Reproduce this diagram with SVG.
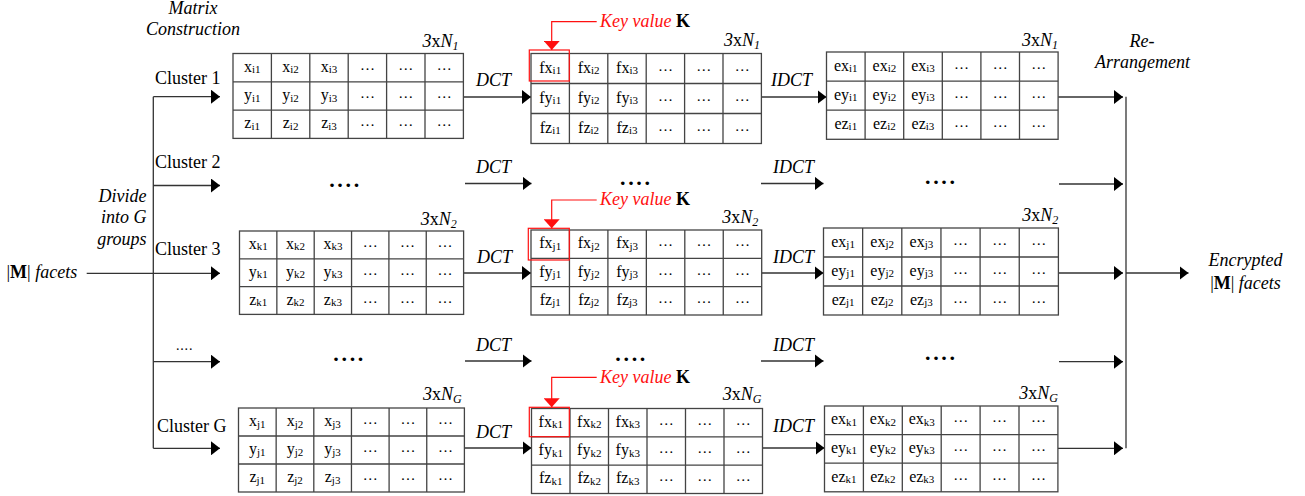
<svg xmlns="http://www.w3.org/2000/svg" width="1305" height="496" viewBox="0 0 1305 496">
<defs>
<marker id="ah" markerUnits="userSpaceOnUse" markerWidth="10" markerHeight="14" refX="9" refY="7" orient="auto"><path d="M0,0 L9,7 L0,14 z" fill="#000"/></marker>
<marker id="rh" markerUnits="userSpaceOnUse" markerWidth="10" markerHeight="16" refX="9" refY="8" orient="auto"><path d="M0,0 L9,8 L0,16 z" fill="#ff1010"/></marker>
</defs>
<style>
text{font-family:"Liberation Serif","Times New Roman",serif;fill:#000}
.lbl{font-size:18px}
.it{font-style:italic}
.b{font-weight:bold}
.c{font-size:16px;text-anchor:middle}
.s{font-size:11px}
.e{font-size:15px;text-anchor:middle}
.gb{fill:#fff;stroke:#444;stroke-width:1.3}
.gl{fill:none;stroke:#444;stroke-width:1.3}
.conn path{fill:none;stroke:#333;stroke-width:1.3}
.arr{marker-end:url(#ah)}
.rl{fill:none;stroke:#ff1010;stroke-width:1.2}
.rk{fill:#ff1010;font-style:italic}
.dots{font-size:22px;font-weight:bold;text-anchor:middle}
.n{font-size:18px;text-anchor:end}
.ns{font-size:12px;font-style:italic}
</style>

<g id="connectors" class="conn">
<path d="M153.3,96.7 V448.3"/>
<path class="arr" d="M153.3,96.7 H220"/>
<path class="arr" d="M153.3,185.5 H220"/>
<path class="arr" d="M86.7,273.3 H220"/>
<path class="arr" d="M153.3,361.7 H220"/>
<path class="arr" d="M153.3,448.3 H220"/>
<path class="arr" d="M463.4,97 H531"/>
<path class="arr" d="M761.4,97 H826.5"/>
<path class="arr" d="M1058.1,97 H1123"/>
<path class="arr" d="M465,183.5 H531.5"/>
<path class="arr" d="M761,183.5 H823.5"/>
<path class="arr" d="M1059,184 H1123"/>
<path class="arr" d="M463.6,273 H531"/>
<path class="arr" d="M761.7,273 H823.5"/>
<path class="arr" d="M1058.4,273 H1123"/>
<path class="arr" d="M1126,273 H1188.5"/>
<path class="arr" d="M465,361 H531.5"/>
<path class="arr" d="M761,361 H823.5"/>
<path class="arr" d="M1059,361.7 H1123"/>
<path class="arr" d="M464.4,448 H531.5"/>
<path class="arr" d="M762.5,448 H824.5"/>
<path class="arr" d="M1057.9,448.3 H1123"/>
<path d="M1126,96.7 V448.3"/>
</g>

<g id="labels-left">
<text class="lbl it" x="193" y="13.5" text-anchor="middle">Matrix</text>
<text class="lbl it" x="193" y="35" text-anchor="middle">Construction</text>
<text class="lbl" x="155" y="83.5">Cluster 1</text>
<text class="lbl" x="155" y="168">Cluster 2</text>
<text class="lbl" x="155" y="255">Cluster 3</text>
<text x="176" y="350" style="font-size:14px;letter-spacing:0.8px">....</text>
<text class="lbl" x="157" y="431.5">Cluster G</text>
<text class="lbl it" x="146.5" y="201.7" text-anchor="end">Divide</text>
<text class="lbl it" x="146.5" y="223.3" text-anchor="end">into G</text>
<text class="lbl it" x="146.5" y="245" text-anchor="end">groups</text>
<text class="lbl" x="6.5" y="278.3">|<tspan class="b">M</tspan>| <tspan class="it">facets</tspan></text>
</g>

<g id="labels-right">
<text class="lbl it" x="1142" y="46.7" text-anchor="middle">Re-</text>
<text class="lbl it" x="1142.5" y="68.3" text-anchor="middle">Arrangement</text>
<text class="lbl it" x="1245.5" y="266" text-anchor="middle">Encrypted</text>
<text class="lbl" x="1245.5" y="288.5" text-anchor="middle">|<tspan class="b">M</tspan>| <tspan class="it">facets</tspan></text>
</g>

<g id="transform-labels" class="lbl it">
<text x="476" y="86">DCT</text>
<text x="771" y="86">IDCT</text>
<text x="476" y="173">DCT</text>
<text x="773" y="173">IDCT</text>
<text x="477" y="263">DCT</text>
<text x="773" y="263">IDCT</text>
<text x="476" y="350.5">DCT</text>
<text x="773" y="350.5">IDCT</text>
<text x="476" y="438.3">DCT</text>
<text x="773" y="431.7">IDCT</text>
</g>

<g id="dots">
<text class="dots" x="331.9 340.1 348.3 356.5" y="186.5">....</text>
<text class="dots" x="622.7 630.9 639.1 647.3" y="185">....</text>
<text class="dots" x="927.7 935.9 944.1 952.3" y="184">....</text>
<text class="dots" x="336 344.2 352.4 360.6" y="360.5">....</text>
<text class="dots" x="618 626.2 634.4 642.6" y="361">....</text>
<text class="dots" x="927.7 935.9 944.1 952.3" y="360">....</text>
</g>

<!-- Row A -->
<g id="matrix-xyz-1">
<rect class="gb" x="233" y="53.5" width="230.4" height="84.9"/>
<path class="gl" d="M271.4,53.5V138.4M309.8,53.5V138.4M348.2,53.5V138.4M386.6,53.5V138.4M425,53.5V138.4M233,81.8H463.4M233,110.1H463.4"/>
<g class="c">
<text x="252.2" y="71.7">x<tspan class="s" dy="1.5">i1</tspan></text>
<text x="290.6" y="71.7">x<tspan class="s" dy="1.5">i2</tspan></text>
<text x="329" y="71.7">x<tspan class="s" dy="1.5">i3</tspan></text>
<text x="252.2" y="100">y<tspan class="s" dy="1.5">i1</tspan></text>
<text x="290.6" y="100">y<tspan class="s" dy="1.5">i2</tspan></text>
<text x="329" y="100">y<tspan class="s" dy="1.5">i3</tspan></text>
<text x="252.2" y="128.3">z<tspan class="s" dy="1.5">i1</tspan></text>
<text x="290.6" y="128.3">z<tspan class="s" dy="1.5">i2</tspan></text>
<text x="329" y="128.3">z<tspan class="s" dy="1.5">i3</tspan></text>
</g>
<text class="e" x="367.4 405.8 444.2" y="69.7">………</text>
<text class="e" x="367.4 405.8 444.2" y="98">………</text>
<text class="e" x="367.4 405.8 444.2" y="126.3">………</text>
<text class="n" x="458.5" y="47"><tspan class="it">3</tspan>x<tspan class="it">N</tspan><tspan class="ns" dy="3">1</tspan></text>
</g>

<g id="matrix-dct-1">
<rect class="gb" x="531" y="53.5" width="230.4" height="90"/>
<path class="gl" d="M569.4,53.5V143.5M607.8,53.5V143.5M646.2,53.5V143.5M684.6,53.5V143.5M723,53.5V143.5M531,83.5H761.4M531,113.5H761.4"/>
<g class="c">
<text x="550.2" y="72.5">fx<tspan class="s" dy="1.5">i1</tspan></text>
<text x="588.6" y="72.5">fx<tspan class="s" dy="1.5">i2</tspan></text>
<text x="627" y="72.5">fx<tspan class="s" dy="1.5">i3</tspan></text>
<text x="550.2" y="102.5">fy<tspan class="s" dy="1.5">i1</tspan></text>
<text x="588.6" y="102.5">fy<tspan class="s" dy="1.5">i2</tspan></text>
<text x="627" y="102.5">fy<tspan class="s" dy="1.5">i3</tspan></text>
<text x="550.2" y="132.5">fz<tspan class="s" dy="1.5">i1</tspan></text>
<text x="588.6" y="132.5">fz<tspan class="s" dy="1.5">i2</tspan></text>
<text x="627" y="132.5">fz<tspan class="s" dy="1.5">i3</tspan></text>
</g>
<text class="e" x="665.4 703.8 742.2" y="70.5">………</text>
<text class="e" x="665.4 703.8 742.2" y="100.5">………</text>
<text class="e" x="665.4 703.8 742.2" y="130.5">………</text>
<text class="n" x="760" y="46"><tspan class="it">3</tspan>x<tspan class="it">N</tspan><tspan class="ns" dy="3">1</tspan></text>
</g>

<g id="key-1">
<rect class="rl" x="529.3" y="50" width="40" height="31"/>
<path class="rl" d="M596.7,21.7 H551.7 V50" marker-end="url(#rh)"/>
<text class="lbl" x="600" y="26.7"><tspan class="rk">Key value </tspan><tspan class="b">K</tspan></text>
</g>

<g id="matrix-idct-1">
<rect class="gb" x="826.5" y="52" width="231.6" height="87.3"/>
<path class="gl" d="M865.1,52V139.3M903.7,52V139.3M942.3,52V139.3M980.9,52V139.3M1019.5,52V139.3M826.5,81.1H1058.1M826.5,110.2H1058.1"/>
<g class="c">
<text x="845.8" y="70.6">ex<tspan class="s" dy="1.5">i1</tspan></text>
<text x="884.4" y="70.6">ex<tspan class="s" dy="1.5">i2</tspan></text>
<text x="923" y="70.6">ex<tspan class="s" dy="1.5">i3</tspan></text>
<text x="845.8" y="99.7">ey<tspan class="s" dy="1.5">i1</tspan></text>
<text x="884.4" y="99.7">ey<tspan class="s" dy="1.5">i2</tspan></text>
<text x="923" y="99.7">ey<tspan class="s" dy="1.5">i3</tspan></text>
<text x="845.8" y="128.8">ez<tspan class="s" dy="1.5">i1</tspan></text>
<text x="884.4" y="128.8">ez<tspan class="s" dy="1.5">i2</tspan></text>
<text x="923" y="128.8">ez<tspan class="s" dy="1.5">i3</tspan></text>
</g>
<text class="e" x="961.6 1000.2 1038.8" y="68.6">………</text>
<text class="e" x="961.6 1000.2 1038.8" y="97.7">………</text>
<text class="e" x="961.6 1000.2 1038.8" y="126.8">………</text>
<text class="n" x="1058" y="45.5"><tspan class="it">3</tspan>x<tspan class="it">N</tspan><tspan class="ns" dy="3">1</tspan></text>
</g>

<!-- Row C -->
<g id="matrix-xyz-3">
<rect class="gb" x="239.5" y="231" width="224.1" height="83.4"/>
<path class="gl" d="M276.85,231V314.4M314.2,231V314.4M351.55,231V314.4M388.9,231V314.4M426.25,231V314.4M239.5,258.8H463.6M239.5,286.6H463.6"/>
<g class="c">
<text x="258.2" y="248.9">x<tspan class="s" dy="1.5">k1</tspan></text>
<text x="295.5" y="248.9">x<tspan class="s" dy="1.5">k2</tspan></text>
<text x="332.9" y="248.9">x<tspan class="s" dy="1.5">k3</tspan></text>
<text x="258.2" y="276.7">y<tspan class="s" dy="1.5">k1</tspan></text>
<text x="295.5" y="276.7">y<tspan class="s" dy="1.5">k2</tspan></text>
<text x="332.9" y="276.7">y<tspan class="s" dy="1.5">k3</tspan></text>
<text x="258.2" y="304.5">z<tspan class="s" dy="1.5">k1</tspan></text>
<text x="295.5" y="304.5">z<tspan class="s" dy="1.5">k2</tspan></text>
<text x="332.9" y="304.5">z<tspan class="s" dy="1.5">k3</tspan></text>
</g>
<text class="e" x="370.2 407.6 444.9" y="246.9">………</text>
<text class="e" x="370.2 407.6 444.9" y="274.7">………</text>
<text class="e" x="370.2 407.6 444.9" y="302.5">………</text>
<text class="n" x="456.7" y="224.5"><tspan class="it">3</tspan>x<tspan class="it">N</tspan><tspan class="ns" dy="3">2</tspan></text>
</g>

<g id="matrix-dct-3">
<rect class="gb" x="531" y="230" width="230.7" height="85"/>
<path class="gl" d="M569.45,230V315M607.9,230V315M646.35,230V315M684.8,230V315M723.25,230V315M531,258.33H761.7M531,286.67H761.7"/>
<g class="c">
<text x="550.2" y="248.2">fx<tspan class="s" dy="1.5">j1</tspan></text>
<text x="588.7" y="248.2">fx<tspan class="s" dy="1.5">j2</tspan></text>
<text x="627.1" y="248.2">fx<tspan class="s" dy="1.5">j3</tspan></text>
<text x="550.2" y="276.5">fy<tspan class="s" dy="1.5">j1</tspan></text>
<text x="588.7" y="276.5">fy<tspan class="s" dy="1.5">j2</tspan></text>
<text x="627.1" y="276.5">fy<tspan class="s" dy="1.5">j3</tspan></text>
<text x="550.2" y="304.8">fz<tspan class="s" dy="1.5">j1</tspan></text>
<text x="588.7" y="304.8">fz<tspan class="s" dy="1.5">j2</tspan></text>
<text x="627.1" y="304.8">fz<tspan class="s" dy="1.5">j3</tspan></text>
</g>
<text class="e" x="665.6 704 742.5" y="246.2">………</text>
<text class="e" x="665.6 704 742.5" y="274.5">………</text>
<text class="e" x="665.6 704 742.5" y="302.8">………</text>
<text class="n" x="758.3" y="222.5"><tspan class="it">3</tspan>x<tspan class="it">N</tspan><tspan class="ns" dy="3">2</tspan></text>
</g>

<g id="key-3">
<rect class="rl" x="528.3" y="228.3" width="41" height="31.7"/>
<path class="rl" d="M596.7,200 H551.7 V228.3" marker-end="url(#rh)"/>
<text class="lbl" x="600" y="205"><tspan class="rk">Key value </tspan><tspan class="b">K</tspan></text>
</g>

<g id="matrix-idct-3">
<rect class="gb" x="823.5" y="228" width="234.9" height="87"/>
<path class="gl" d="M862.65,228V315M901.8,228V315M940.95,228V315M980.1,228V315M1019.25,228V315M823.5,257H1058.4M823.5,286H1058.4"/>
<g class="c">
<text x="843.1" y="246.5">ex<tspan class="s" dy="1.5">j1</tspan></text>
<text x="882.2" y="246.5">ex<tspan class="s" dy="1.5">j2</tspan></text>
<text x="921.4" y="246.5">ex<tspan class="s" dy="1.5">j3</tspan></text>
<text x="843.1" y="275.5">ey<tspan class="s" dy="1.5">j1</tspan></text>
<text x="882.2" y="275.5">ey<tspan class="s" dy="1.5">j2</tspan></text>
<text x="921.4" y="275.5">ey<tspan class="s" dy="1.5">j3</tspan></text>
<text x="843.1" y="304.5">ez<tspan class="s" dy="1.5">j1</tspan></text>
<text x="882.2" y="304.5">ez<tspan class="s" dy="1.5">j2</tspan></text>
<text x="921.4" y="304.5">ez<tspan class="s" dy="1.5">j3</tspan></text>
</g>
<text class="e" x="960.5 999.7 1038.8" y="244.5">………</text>
<text class="e" x="960.5 999.7 1038.8" y="273.5">………</text>
<text class="e" x="960.5 999.7 1038.8" y="302.5">………</text>
<text class="n" x="1058.3" y="221"><tspan class="it">3</tspan>x<tspan class="it">N</tspan><tspan class="ns" dy="3">2</tspan></text>
</g>

<!-- Row E -->
<g id="matrix-xyz-G">
<rect class="gb" x="238.5" y="408" width="225.9" height="84"/>
<path class="gl" d="M276.15,408V492M313.8,408V492M351.45,408V492M389.1,408V492M426.75,408V492M238.5,436H464.4M238.5,464H464.4"/>
<g class="c">
<text x="257.3" y="426">x<tspan class="s" dy="1.5">j1</tspan></text>
<text x="295" y="426">x<tspan class="s" dy="1.5">j2</tspan></text>
<text x="332.6" y="426">x<tspan class="s" dy="1.5">j3</tspan></text>
<text x="257.3" y="454">y<tspan class="s" dy="1.5">j1</tspan></text>
<text x="295" y="454">y<tspan class="s" dy="1.5">j2</tspan></text>
<text x="332.6" y="454">y<tspan class="s" dy="1.5">j3</tspan></text>
<text x="257.3" y="482">z<tspan class="s" dy="1.5">j1</tspan></text>
<text x="295" y="482">z<tspan class="s" dy="1.5">j2</tspan></text>
<text x="332.6" y="482">z<tspan class="s" dy="1.5">j3</tspan></text>
</g>
<text class="e" x="370.3 407.9 445.6" y="424">………</text>
<text class="e" x="370.3 407.9 445.6" y="452">………</text>
<text class="e" x="370.3 407.9 445.6" y="480">………</text>
<text class="n" x="461.7" y="400"><tspan class="it">3</tspan>x<tspan class="it">N</tspan><tspan class="ns" dy="3">G</tspan></text>
</g>

<g id="matrix-dct-G">
<rect class="gb" x="531.5" y="408.5" width="231" height="85"/>
<path class="gl" d="M570,408.5V493.5M608.5,408.5V493.5M647,408.5V493.5M685.5,408.5V493.5M724,408.5V493.5M531.5,436.83H762.5M531.5,465.17H762.5"/>
<g class="c">
<text x="550.75" y="426.7">fx<tspan class="s" dy="1.5">k1</tspan></text>
<text x="589.25" y="426.7">fx<tspan class="s" dy="1.5">k2</tspan></text>
<text x="627.75" y="426.7">fx<tspan class="s" dy="1.5">k3</tspan></text>
<text x="550.75" y="455">fy<tspan class="s" dy="1.5">k1</tspan></text>
<text x="589.25" y="455">fy<tspan class="s" dy="1.5">k2</tspan></text>
<text x="627.75" y="455">fy<tspan class="s" dy="1.5">k3</tspan></text>
<text x="550.75" y="483.3">fz<tspan class="s" dy="1.5">k1</tspan></text>
<text x="589.25" y="483.3">fz<tspan class="s" dy="1.5">k2</tspan></text>
<text x="627.75" y="483.3">fz<tspan class="s" dy="1.5">k3</tspan></text>
</g>
<text class="e" x="666.25 704.75 743.25" y="424.7">………</text>
<text class="e" x="666.25 704.75 743.25" y="453">………</text>
<text class="e" x="666.25 704.75 743.25" y="481.3">………</text>
<text class="n" x="761.5" y="400"><tspan class="it">3</tspan>x<tspan class="it">N</tspan><tspan class="ns" dy="3">G</tspan></text>
</g>

<g id="key-G">
<rect class="rl" x="529.3" y="407.3" width="40" height="29.4"/>
<path class="rl" d="M596.7,377.3 H551.7 V407.3" marker-end="url(#rh)"/>
<text class="lbl" x="600" y="383.3"><tspan class="rk">Key value </tspan><tspan class="b">K</tspan></text>
</g>

<g id="matrix-idct-G">
<rect class="gb" x="824.5" y="406" width="233.4" height="85.8"/>
<path class="gl" d="M863.4,406V491.8M902.3,406V491.8M941.2,406V491.8M980.1,406V491.8M1019,406V491.8M824.5,434.6H1057.9M824.5,463.2H1057.9"/>
<g class="c">
<text x="843.95" y="424.3">ex<tspan class="s" dy="1.5">k1</tspan></text>
<text x="882.85" y="424.3">ex<tspan class="s" dy="1.5">k2</tspan></text>
<text x="921.75" y="424.3">ex<tspan class="s" dy="1.5">k3</tspan></text>
<text x="843.95" y="452.9">ey<tspan class="s" dy="1.5">k1</tspan></text>
<text x="882.85" y="452.9">ey<tspan class="s" dy="1.5">k2</tspan></text>
<text x="921.75" y="452.9">ey<tspan class="s" dy="1.5">k3</tspan></text>
<text x="843.95" y="481.5">ez<tspan class="s" dy="1.5">k1</tspan></text>
<text x="882.85" y="481.5">ez<tspan class="s" dy="1.5">k2</tspan></text>
<text x="921.75" y="481.5">ez<tspan class="s" dy="1.5">k3</tspan></text>
</g>
<text class="e" x="960.65 999.55 1038.45" y="422.3">………</text>
<text class="e" x="960.65 999.55 1038.45" y="450.9">………</text>
<text class="e" x="960.65 999.55 1038.45" y="479.5">………</text>
<text class="n" x="1058" y="399"><tspan class="it">3</tspan>x<tspan class="it">N</tspan><tspan class="ns" dy="3">G</tspan></text>
</g>
</svg>
